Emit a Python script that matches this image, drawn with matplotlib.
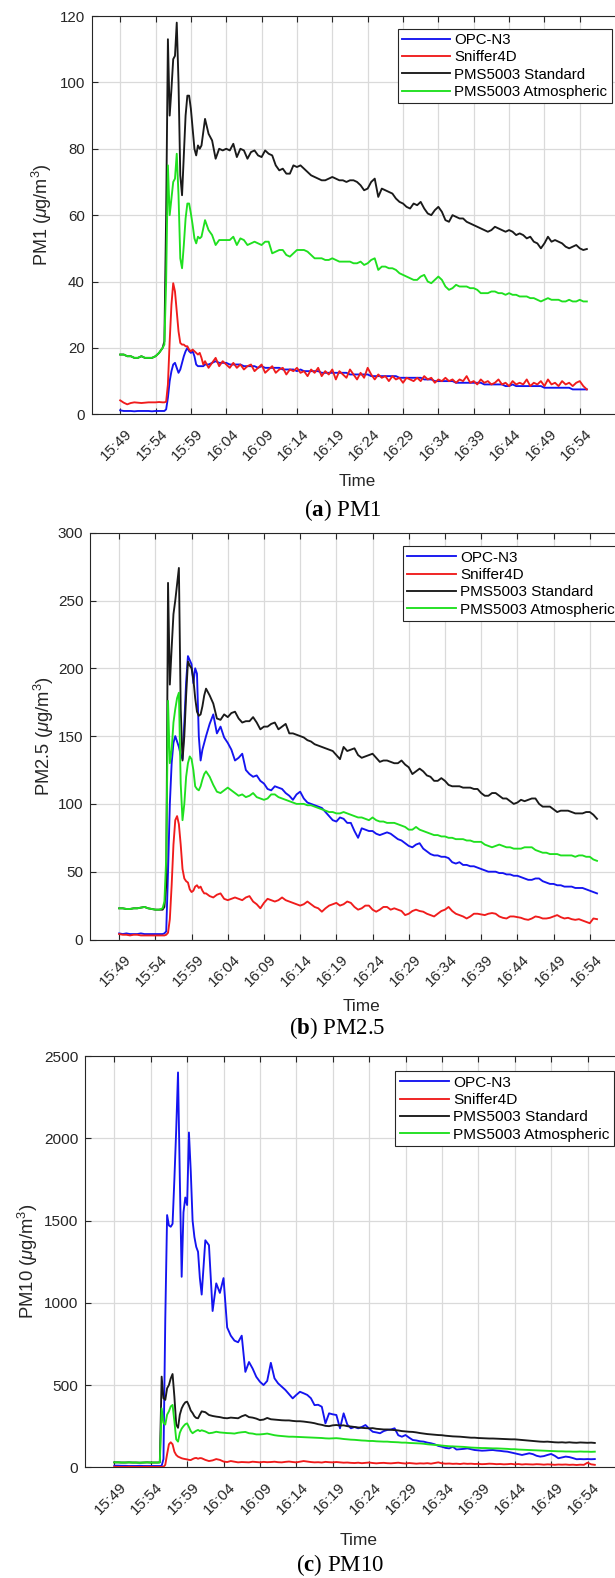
import numpy as np
import matplotlib
matplotlib.use('Agg')
import matplotlib.pyplot as plt
import matplotlib.transforms as mtransforms

plt.rcParams['font.family'] = ['Liberation Sans', 'DejaVu Sans']
plt.rcParams['mathtext.fontset'] = 'custom'
plt.rcParams['mathtext.rm'] = 'Liberation Sans'
plt.rcParams['mathtext.it'] = 'Liberation Sans:italic'
plt.rcParams['mathtext.bf'] = 'Liberation Serif:bold'

# sample times in minutes after 15:49 (logged faster while the plume passes)
minutes = np.r_[np.arange(0, 6, 0.5), np.arange(6, 12, 0.25), np.arange(12, 66.01, 0.5)]

time_ticks = np.arange(0, 66, 5)
time_labels = ['15:49', '15:54', '15:59', '16:04', '16:09', '16:14', '16:19',
               '16:24', '16:29', '16:34', '16:39', '16:44', '16:49', '16:54']

sensors = ['OPC-N3', 'Sniffer4D', 'PMS5003 Standard', 'PMS5003 Atmospheric']
colors = ['#1414f0', '#f01c1c', '#1a1a1a', '#1fe01f']

# ---- PM1 ----
pm1_opc = [
    1.2, 1, 1, 1, 0.9, 1, 1, 1, 1, 0.9, 1, 1,
    1, 1, 1.5, 5, 10, 13, 15, 15.5, 14, 12.5, 13.5, 15.5,
    17.5, 19, 20, 19, 18.5, 19, 17.5, 15, 14.5, 14.5, 14.5, 14.5,
    15, 15, 15.5, 16, 15.5, 15.5, 15.5, 15, 15, 15,
    15, 14.5, 14.5, 14.5, 14.5, 14, 14.5, 14, 14, 14,
    14, 14, 13.5, 13.5, 13.5, 13.5, 13, 13.5, 13, 13,
    13, 13, 13, 12.5, 12.5, 12.5, 12.5, 12.5, 12.5, 12.5,
    12.5, 12, 12, 12, 12, 12, 12, 11.5, 11.5, 11.5,
    11.5, 11.5, 11.5, 11.5, 11.5, 11, 11, 11, 11, 11,
    11, 11, 10.5, 10.5, 10.5, 10, 10, 10, 10, 10,
    10, 9.5, 9.5, 9.5, 9.5, 9.5, 9.5, 9.5, 9.5, 9,
    9, 9, 9, 9, 9, 8.5, 8.5, 9, 8.5, 8.5,
    8.5, 8.5, 8.5, 8.5, 8.5, 8.5, 8, 8, 8, 8,
    8, 8, 8, 8, 7.5, 7.5, 7.5, 7.5, 7.5,
]
pm1_sniffer = [
    4.2, 3.5, 3.0, 3.4, 3.6, 3.5, 3.4, 3.5, 3.6, 3.6, 3.6, 3.7,
    3.6, 3.6, 3.8, 9, 22, 33, 39.5, 37, 31, 25, 21.5, 21,
    21, 20.5, 20.5, 19.5, 19, 19.5, 19, 18.5, 18, 18.5, 17, 15,
    16, 14, 15.5, 17, 14.5, 16, 15, 14, 15.5, 14,
    15, 13.5, 14.5, 15, 13, 14, 15, 12.5, 13.5, 14.5,
    12.5, 13.5, 14, 12, 13.5, 13, 14, 12.5, 13, 11.5,
    13.5, 12.5, 14, 11.5, 13, 12, 13.5, 10.5, 13, 12,
    11, 13.5, 12, 10.5, 12.5, 11, 14, 12, 10.5, 12,
    11, 11.5, 10, 11.5, 10.5, 11, 9.5, 11, 10.5, 10,
    11, 10, 11.5, 10.5, 11, 9.5, 10.5, 10, 11, 10,
    10.5, 9.5, 10.5, 10, 11.5, 9.5, 10, 9, 10.5, 9.5,
    10, 9, 9.5, 10.5, 9, 9.5, 8.5, 10, 9, 9.5,
    9, 10.5, 8.5, 9.5, 9, 10, 8.5, 10.5, 9, 9.5,
    8.5, 10, 9, 9.5, 8.5, 9.5, 10, 8.5, 7.5,
]
pm1_pms_std = [
    18, 18, 17.5, 17.5, 17, 17, 17.5, 17, 17, 17, 17.5, 18.5,
    20, 22, 60, 113, 90, 98, 107, 108, 118, 100, 72, 66,
    78, 90, 96, 96, 92, 86, 80, 78, 81, 80, 81, 85,
    89, 84.5, 82.5, 77, 80, 79.5, 80, 79.5, 81.5, 77.5,
    80, 79.5, 77, 79, 79.5, 78, 77.5, 79.5, 78.5, 78,
    75, 73.5, 74, 72.5, 72.5, 75, 74.5, 75, 74, 73,
    72, 71.5, 71, 70.5, 70.5, 71, 71.5, 71, 70.5, 70.5,
    70, 70.5, 70.5, 70, 69, 67.5, 68, 70, 71, 65.5,
    68, 67.5, 67, 66.5, 65, 64, 63.5, 62.5, 62, 63.5,
    63, 64, 62, 60.5, 60, 61.5, 62.5, 61, 58.5, 58,
    60, 59.5, 59, 59, 58, 57.5, 57, 56.5, 56, 55.5,
    55, 55.5, 56.5, 56, 55.5, 55, 55.5, 55, 54, 54.5,
    54, 53, 53.5, 52, 51.5, 50, 51.5, 53.5, 52, 52.5,
    52, 51.5, 50.5, 50, 50.5, 51, 50, 49.5, 49.8,
]
pm1_pms_atm = [
    18, 18, 17.5, 17.5, 17, 17, 17.5, 17, 17, 17, 17.5, 18.5,
    20, 21, 40, 75, 60, 65, 70, 71, 78.5, 66, 47, 44,
    51, 59, 63.5, 63.5, 60.5, 57, 53, 51.5, 53.5, 53, 53.5, 56,
    58.5, 55.5, 54, 51, 52.5, 52.5, 52.5, 52.5, 53.5, 51,
    53, 52.5, 51, 51.5, 52, 51.5, 51, 52, 52, 48.5,
    49, 49.5, 49.5, 48, 47.5, 48.5, 49.5, 49.5, 49.5, 49,
    48, 47, 47, 47, 46.5, 46.5, 47, 46.5, 46, 46,
    46, 46, 45.5, 45.5, 46, 45, 45.5, 46.5, 47, 43.5,
    44.5, 44.5, 44, 44, 43.5, 42.5, 42, 41.5, 41, 40.5,
    40.5, 41.5, 42, 40, 39.5, 40.5, 41.5, 40.5, 38.5, 37.5,
    38, 39, 38.5, 38.5, 38.5, 38, 38, 37.5, 36.5, 36.5,
    36.5, 37, 37, 36.5, 36.5, 36, 36.5, 36, 36, 35.5,
    35.5, 35.5, 35, 35, 34.5, 34, 34.5, 35, 34.5, 34.5,
    34.5, 34, 34, 34.5, 34, 34, 34.5, 34, 34,
]

# ---- PM2.5 ----
pm25_opc = [
    4.5, 4, 4.5, 4, 4, 4, 4.5, 4, 4, 4, 4, 4,
    4, 4.5, 6, 50, 100, 130, 145, 150, 146, 142, 136, 133,
    160, 190, 209, 206, 203, 189, 200, 196, 150, 132, 140, 145,
    150, 159, 166, 152, 157, 149, 145, 140, 132, 134,
    137, 125, 122, 120, 121, 117, 115, 111, 110, 113,
    112, 111, 108, 106, 103, 107, 109, 104, 101, 100,
    99, 98, 97, 94, 91, 88, 87, 90, 89, 86,
    86, 80, 75, 82, 81, 80, 80, 78, 77, 78,
    79, 78, 76, 74, 73, 71, 69, 68, 70, 71,
    67, 65, 63, 62, 62, 61, 61, 60, 57, 56,
    57, 55, 55, 54, 54, 53, 52, 51, 50, 50,
    50, 49, 49, 48, 48, 47, 47, 46, 45, 44,
    44, 45, 45, 43, 42, 41, 41, 40, 40, 39,
    39, 39, 38, 38, 38, 37, 36, 35, 34,
]
pm25_sniffer = [
    4, 3.5, 3.5, 3, 3.5, 3.5, 3, 3, 3, 3, 3, 3,
    3, 3, 3.5, 5, 15, 40, 70, 88, 91, 85, 70, 52,
    45, 43, 42, 37, 35, 36, 39, 40, 38, 39, 36, 34,
    34, 32, 31, 33, 34, 30, 29, 30, 31, 30,
    29, 31, 32, 28, 26, 23, 27, 30, 29, 28,
    29, 31, 29, 28, 27, 26, 25, 26, 28, 26,
    24, 23, 20.5, 23, 25, 26, 27, 25, 26, 28,
    27, 24, 22, 23, 25, 25, 22, 20.5, 22, 24,
    24, 22, 23, 22, 21, 18, 19, 21, 22, 21,
    20.5, 19, 18, 17, 19, 21, 22, 24, 21, 19,
    18, 17, 15.5, 17, 19, 19, 18.5, 18, 19, 19.5,
    19, 17, 16, 15.5, 17, 17, 16.5, 16, 15, 14.5,
    15.5, 17, 16.5, 15.5, 15.5, 16, 17, 18, 16.5, 15.5,
    16, 15, 14.5, 15, 14, 13, 12, 15.5, 15,
]
pm25_pms_std = [
    23, 23, 22.5, 22.5, 23, 23, 23.5, 24, 23, 22.5, 22, 22,
    22, 24, 40, 263, 188, 215, 240, 250, 262, 274, 170, 132,
    150, 180, 205, 202, 200, 192, 178, 168, 165, 166, 172, 180,
    185, 180, 174, 163, 162, 166, 164, 167, 168, 163,
    160, 161, 161, 164, 160, 155, 157, 157, 159, 160,
    155, 157, 159, 152, 152, 151, 150, 149, 147, 146,
    144, 143, 142, 141, 140, 139, 136, 133, 142, 139,
    140, 141, 136, 134, 135, 136, 137, 134, 131, 132,
    132, 131, 130, 130, 132, 129, 127, 122, 124, 126,
    124, 121, 120, 117, 117, 119, 117, 114, 113, 113,
    113, 112, 112, 112, 111, 111, 108, 106, 106, 108,
    108, 106, 104, 104, 102, 100, 101, 103, 102, 103,
    104, 104, 100, 98, 98, 98, 96, 94, 95, 95,
    95, 94, 93, 93, 93, 94, 94, 92, 89,
]
pm25_pms_atm = [
    23, 23, 22.5, 22.5, 23, 23, 23.5, 24, 23, 22.5, 22, 22,
    23, 28, 60, 176, 130, 140, 160, 170, 178, 182, 115, 88,
    100, 120, 130, 135, 133, 125, 113, 111, 110, 113, 118, 122,
    124, 120, 114, 109, 108, 110, 112, 110, 108, 106,
    107, 105, 106, 108, 105, 104, 103, 104, 107, 107,
    105, 104, 103, 102, 101, 100, 100, 100, 99, 99,
    98, 97, 96, 95, 94, 94, 93, 93, 94, 93,
    92, 91, 90, 90, 89, 88, 90, 88, 87, 87,
    86, 86, 86, 85, 84, 83, 81, 81, 83, 81,
    80, 79, 78, 77, 77, 76, 76, 75, 75, 74,
    74, 74, 73, 73, 72, 72, 72, 70, 69, 68,
    69, 70, 69, 68, 68, 67, 67, 67, 68, 68,
    68, 66, 65, 64, 64, 63, 63, 63, 62, 62,
    62, 62, 61, 62, 62, 61, 61, 59, 58,
]

# ---- PM10 ----
pm10_opc = [
    10, 10, 9, 9, 8, 8, 8, 9, 8, 8, 8, 8,
    8, 8, 9, 50, 900, 1533, 1470, 1462, 1480, 1750, 2050, 2400,
    1750, 1158, 1550, 1640, 1594, 2035, 1800, 1500, 1400, 1340, 1310, 1150,
    1050, 1380, 1350, 950, 1118, 1060, 1150, 850, 800, 770,
    760, 800, 580, 640, 600, 550, 520, 500, 525, 635,
    541, 510, 490, 470, 445, 419, 440, 459, 450, 440,
    420, 378, 380, 368, 267, 328, 322, 318, 237, 328,
    260, 237, 245, 237, 245, 257, 235, 216, 212, 207,
    220, 227, 230, 237, 195, 186, 196, 180, 166, 163,
    158, 156, 150, 146, 140, 130, 125, 118, 115, 125,
    108, 110, 112, 115, 110, 105, 103, 101, 102, 104,
    105, 102, 100, 97, 95, 90, 85, 80, 75, 80,
    85, 80, 70, 65, 68, 75, 81, 70, 55, 60,
    65, 62, 56, 49, 50, 49, 50, 49, 50,
]
pm10_sniffer = [
    3, 2, 2, 2, 3, 2, 2, 2, 2, 3, 2, 2,
    2, 2, 2, 3, 15, 80, 140, 152, 140, 95, 75, 65,
    60, 55, 52, 50, 48, 45, 44, 50, 55, 57, 52, 56,
    55, 45, 38, 42, 50, 45, 35, 32, 38, 34,
    30, 32, 31, 30, 34, 32, 30, 33, 31, 32,
    34, 31, 30, 33, 35, 32, 30, 34, 38, 35,
    32, 30, 31, 29, 33, 31, 30, 32, 30, 28,
    29, 27, 26, 28, 25, 27, 29, 26, 24, 26,
    27, 25, 24, 26, 28, 25, 23, 26, 24, 22,
    24, 23, 25, 22, 26, 30, 24, 22, 23, 21,
    22, 20, 23, 21, 22, 20, 21, 19, 20, 22,
    21, 19, 20, 18, 19, 21, 18, 20, 17, 19,
    18, 17, 19, 18, 16, 18, 17, 15, 17, 16,
    17, 15, 16, 14, 16, 15, 28, 18, 15,
]
pm10_pms_std = [
    30, 30, 29, 29, 30, 29, 29, 28, 29, 30, 29, 29,
    29, 30, 551, 420, 410, 480, 500, 540, 567, 430, 260, 240,
    320, 358, 380, 395, 399, 375, 345, 330, 310, 300, 298, 320,
    340, 335, 318, 312, 308, 305, 300, 298, 302, 300,
    298, 310, 318, 305, 302, 296, 287, 290, 300, 292,
    290, 288, 286, 285, 285, 282, 280, 280, 278, 275,
    272, 268, 262, 258, 252, 250, 255, 257, 254, 255,
    250, 248, 245, 242, 240, 238, 237, 238, 234, 232,
    230, 230, 228, 226, 224, 220, 218, 216, 215, 212,
    208, 205, 202, 200, 198, 196, 195, 192, 190, 188,
    187, 186, 184, 182, 180, 180, 178, 177, 176, 175,
    175, 174, 173, 172, 171, 170, 170, 168, 166, 164,
    162, 160, 158, 156, 155, 156, 154, 152, 151, 152,
    150, 152, 150, 149, 151, 150, 149, 150, 148,
]
pm10_pms_atm = [
    30, 30, 29, 29, 30, 29, 29, 28, 29, 30, 29, 29,
    29, 30, 358, 270, 260, 320, 340, 370, 379, 280, 170, 156,
    210, 235, 250, 262, 267, 245, 220, 207, 215, 222, 227, 220,
    225, 218, 207, 210, 216, 212, 210, 208, 207, 205,
    210, 213, 215, 207, 205, 200, 200, 202, 205, 200,
    195, 192, 190, 188, 186, 186, 185, 184, 183, 182,
    181, 180, 179, 178, 176, 175, 176, 177, 175, 172,
    170, 168, 167, 165, 163, 162, 160, 160, 158, 157,
    156, 156, 154, 153, 152, 150, 150, 148, 147, 146,
    145, 143, 140, 138, 136, 135, 132, 130, 128, 127,
    126, 125, 124, 122, 120, 119, 118, 117, 117, 116,
    115, 115, 114, 113, 112, 110, 110, 108, 107, 106,
    105, 104, 103, 102, 101, 100, 99, 98, 97, 97,
    96, 96, 95, 95, 96, 95, 95, 94, 95,
]

W, H = 615, 1578
fig = plt.figure(figsize=(W / 100, H / 100), dpi=100)


def px_rect(left, top, right, bottom):
    return [left / W, 1 - bottom / H, (right - left) / W, (bottom - top) / H]


def draw_panel(rect, series, ymax, ystep, ylabel, ylabel_x, time_y, leg_xy, fs,
               caption, cap_xy):
    ax = fig.add_axes(rect)
    for vals, col, name in zip(series, colors, sensors):
        ax.plot(minutes, vals, color=col, lw=1.35, label=name)
    ax.set_xlim(-4, 71)
    ax.set_ylim(0, ymax)
    ax.set_yticks(np.arange(0, ymax + 1, ystep))
    ax.set_xticks(time_ticks)
    ax.set_xticklabels(time_labels, rotation=45, ha='right', va='center',
                       rotation_mode='anchor')
    ax.grid(True, color='#dadada', lw=0.9)
    ax.set_axisbelow(True)
    ax.tick_params(direction='in', top=True, right=True, length=4, width=0.8,
                   color='#262626', labelcolor='#262626', labelsize=fs)
    ax.tick_params(axis='x', pad=12.5)
    ax.tick_params(axis='y', pad=5)
    shift = mtransforms.ScaledTranslation(0.10, 0, fig.dpi_scale_trans)
    for lab in ax.get_xticklabels():
        lab.set_transform(lab.get_transform() + shift)
    for s in ax.spines.values():
        s.set_color('#262626')
        s.set_linewidth(0.8)

    ax.set_xlabel('Time', fontsize=fs * 1.13, color='#262626')
    ax.xaxis.set_label_coords(0.5, time_y)
    ax.set_ylabel(ylabel, fontsize=fs * 1.2, color='#262626')
    ax.yaxis.set_label_coords(ylabel_x, 0.5)

    leg = ax.legend(loc='upper left', bbox_to_anchor=(leg_xy[0] / W, 1 - leg_xy[1] / H),
                    bbox_transform=fig.transFigure, fontsize=fs, fancybox=False,
                    framealpha=1, edgecolor='#262626', borderpad=0.3,
                    handlelength=3.2, handletextpad=0.27, labelspacing=0.22,
                    borderaxespad=0)
    leg.get_frame().set_linewidth(0.8)

    fig.text(cap_xy[0] / W, 1 - cap_xy[1] / H, caption, family='Liberation Serif',
             fontsize=16.5, ha='center', va='center', color='black')
    return ax


draw_panel(px_rect(91.9, 16, 622.2, 414.3),
           [pm1_opc, pm1_sniffer, pm1_pms_std, pm1_pms_atm],
           120, 20, r'PM1 ($\mu$g/m$^3$)', -0.071, -0.149, (397.5, 28.5), 10.8,
           r'($\mathbf{a}$) PM1', (343, 510))

draw_panel(px_rect(90.2, 532.7, 633.2, 939.5),
           [pm25_opc, pm25_sniffer, pm25_pms_std, pm25_pms_atm],
           300, 50, r'PM2.5 ($\mu$g/m$^3$)', -0.063, -0.147, (402.7, 546), 11.0,
           r'($\mathbf{b}$) PM2.5', (337, 1028.5))

draw_panel(px_rect(85.2, 1056, 631.2, 1467.3),
           [pm10_opc, pm10_sniffer, pm10_pms_std, pm10_pms_atm],
           2500, 500, r'PM10 ($\mu$g/m$^3$)', -0.083, -0.16, (395, 1071), 11.1,
           r'($\mathbf{c}$) PM10', (340, 1565))

fig.savefig('out.png', dpi=100)
